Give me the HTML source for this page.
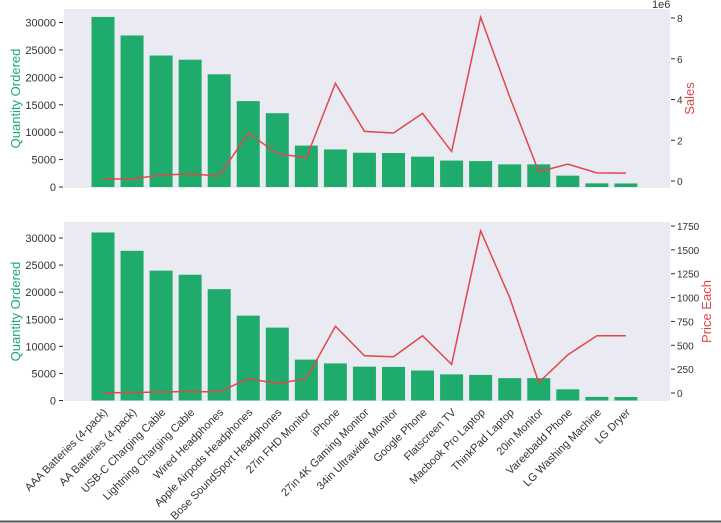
<!DOCTYPE html>
<html><head><meta charset="utf-8"><style>
body{margin:0;background:#fff;}
svg{display:block;font-family:"Liberation Sans",sans-serif;}
</style></head><body>
<svg id="chart" width="721" height="523"></svg>
<script>
const products=["AAA Batteries (4-pack)","AA Batteries (4-pack)","USB-C Charging Cable","Lightning Charging Cable","Wired Headphones","Apple Airpods Headphones","Bose SoundSport Headphones","27in FHD Monitor","iPhone","27in 4K Gaming Monitor","34in Ultrawide Monitor","Google Phone","Flatscreen TV","Macbook Pro Laptop","ThinkPad Laptop","20in Monitor","Vareebadd Phone","LG Washing Machine","LG Dryer"];
const quantity=[31017,27635,23975,23217,20557,15661,13457,7550,6849,6244,6199,5532,4819,4728,4130,4129,2068,666,646];
const sales=[92740,106118,286501,347094,246478,2349150,1345565,1132424,4794300,2435097,2355558,3319200,1445630,8037600,4129959,454148,827200,399600,387600];
const prices=[2.99,3.84,11.95,14.95,11.99,150,99.99,149.99,700,389.99,379.99,600,300,1700,999.99,109.99,400,600,600];
const qTicks=[0,5000,10000,15000,20000,25000,30000];
const salesTicks=[0,2,4,6,8];
const priceTicks=[0,250,500,750,1000,1250,1500,1750];

const svg=document.getElementById('chart');
const NS='http://www.w3.org/2000/svg';
function el(t,a,p){const e=document.createElementNS(NS,t);for(const k in a)e.setAttribute(k,a[k]);(p||svg).appendChild(e);return e;}
const X0=64,X1=670;
const xc=i=>103+i*29.05;
const GREEN='#1fab6b',RED='#e0474c';

function panel(top,bot,qZeroY,q30Y,rZeroY,rTopY,rTopVal,rVals,rTicks,tickScale,rLabel,rX,name){
  const g=el('g',{});
  
  
  const bg=el('rect',{x:X0,y:top,width:X1-X0,height:bot-top,fill:'#eaeaf2'},g);
  
  
  const yq=v=>qZeroY-(v/30000)*(qZeroY-q30Y);
  const yr=v=>rZeroY-(v/rTopVal)*(rZeroY-rTopY);
  quantity.forEach((v,i)=>{
    const r=el('rect',{x:xc(i)-11.5,y:yq(v),width:23,height:qZeroY-yq(v),fill:GREEN},g);
    
    
  });
  qTicks.forEach(t=>{
    const y=yq(t);
    el('line',{x1:X0-5,x2:X0-1,y1:y,y2:y,stroke:'#333','stroke-width':1},g);
    const tx=el('text',{x:X0-8,y:y+4,'text-anchor':'end','font-size':11,fill:'#333'},g);
    tx.textContent=t;
    
    
  });
  const pts=rVals.map((v,i)=>xc(i)+','+yr(v)).join(' ');
  const pl=el('polyline',{points:pts,fill:'none',stroke:RED,'stroke-width':1.5},g);
  
  
  rTicks.forEach(t=>{
    const y=yr(t*tickScale);
    el('line',{x1:X1+1,x2:X1+5,y1:y,y2:y,stroke:'#333','stroke-width':1},g);
    const tx=el('text',{x:X1+7,y:y+4,'font-size':10,fill:'#333'},g);
    tx.textContent=t;
    
    
  });
  const lt=el('text',{transform:`translate(20,${(top+bot)/2}) rotate(-90)`,'text-anchor':'middle','font-size':13,fill:GREEN},g);
  lt.textContent='Quantity Ordered';
  
  
  const rt=el('text',{transform:`translate(${rX},${(top+bot)/2}) rotate(-90)`,'text-anchor':'middle','font-size':13,fill:RED},g);
  rt.textContent=rLabel;
  
  
}
panel(9,188,187,22.5,181,18,8e6,sales,salesTicks,1e6,'Sales',694,'sales-panel');
panel(222,401,400.5,238,393,226,1750,prices,priceTicks,1,'Price Each',711,'price-panel');
const e6=el('text',{x:652,y:8,'font-size':11,fill:'#333'});
e6.textContent='1e6';


products.forEach((p,i)=>{
  const t=el('text',{transform:`translate(${xc(i)+5},${413}) rotate(-45)`,'text-anchor':'end','font-size':11,fill:'#333'});
  t.textContent=p;
  
  
});
el('line',{x1:0,x2:721,y1:521.5,y2:521.5,stroke:'#555','stroke-width':2});
</script>
</body></html>
